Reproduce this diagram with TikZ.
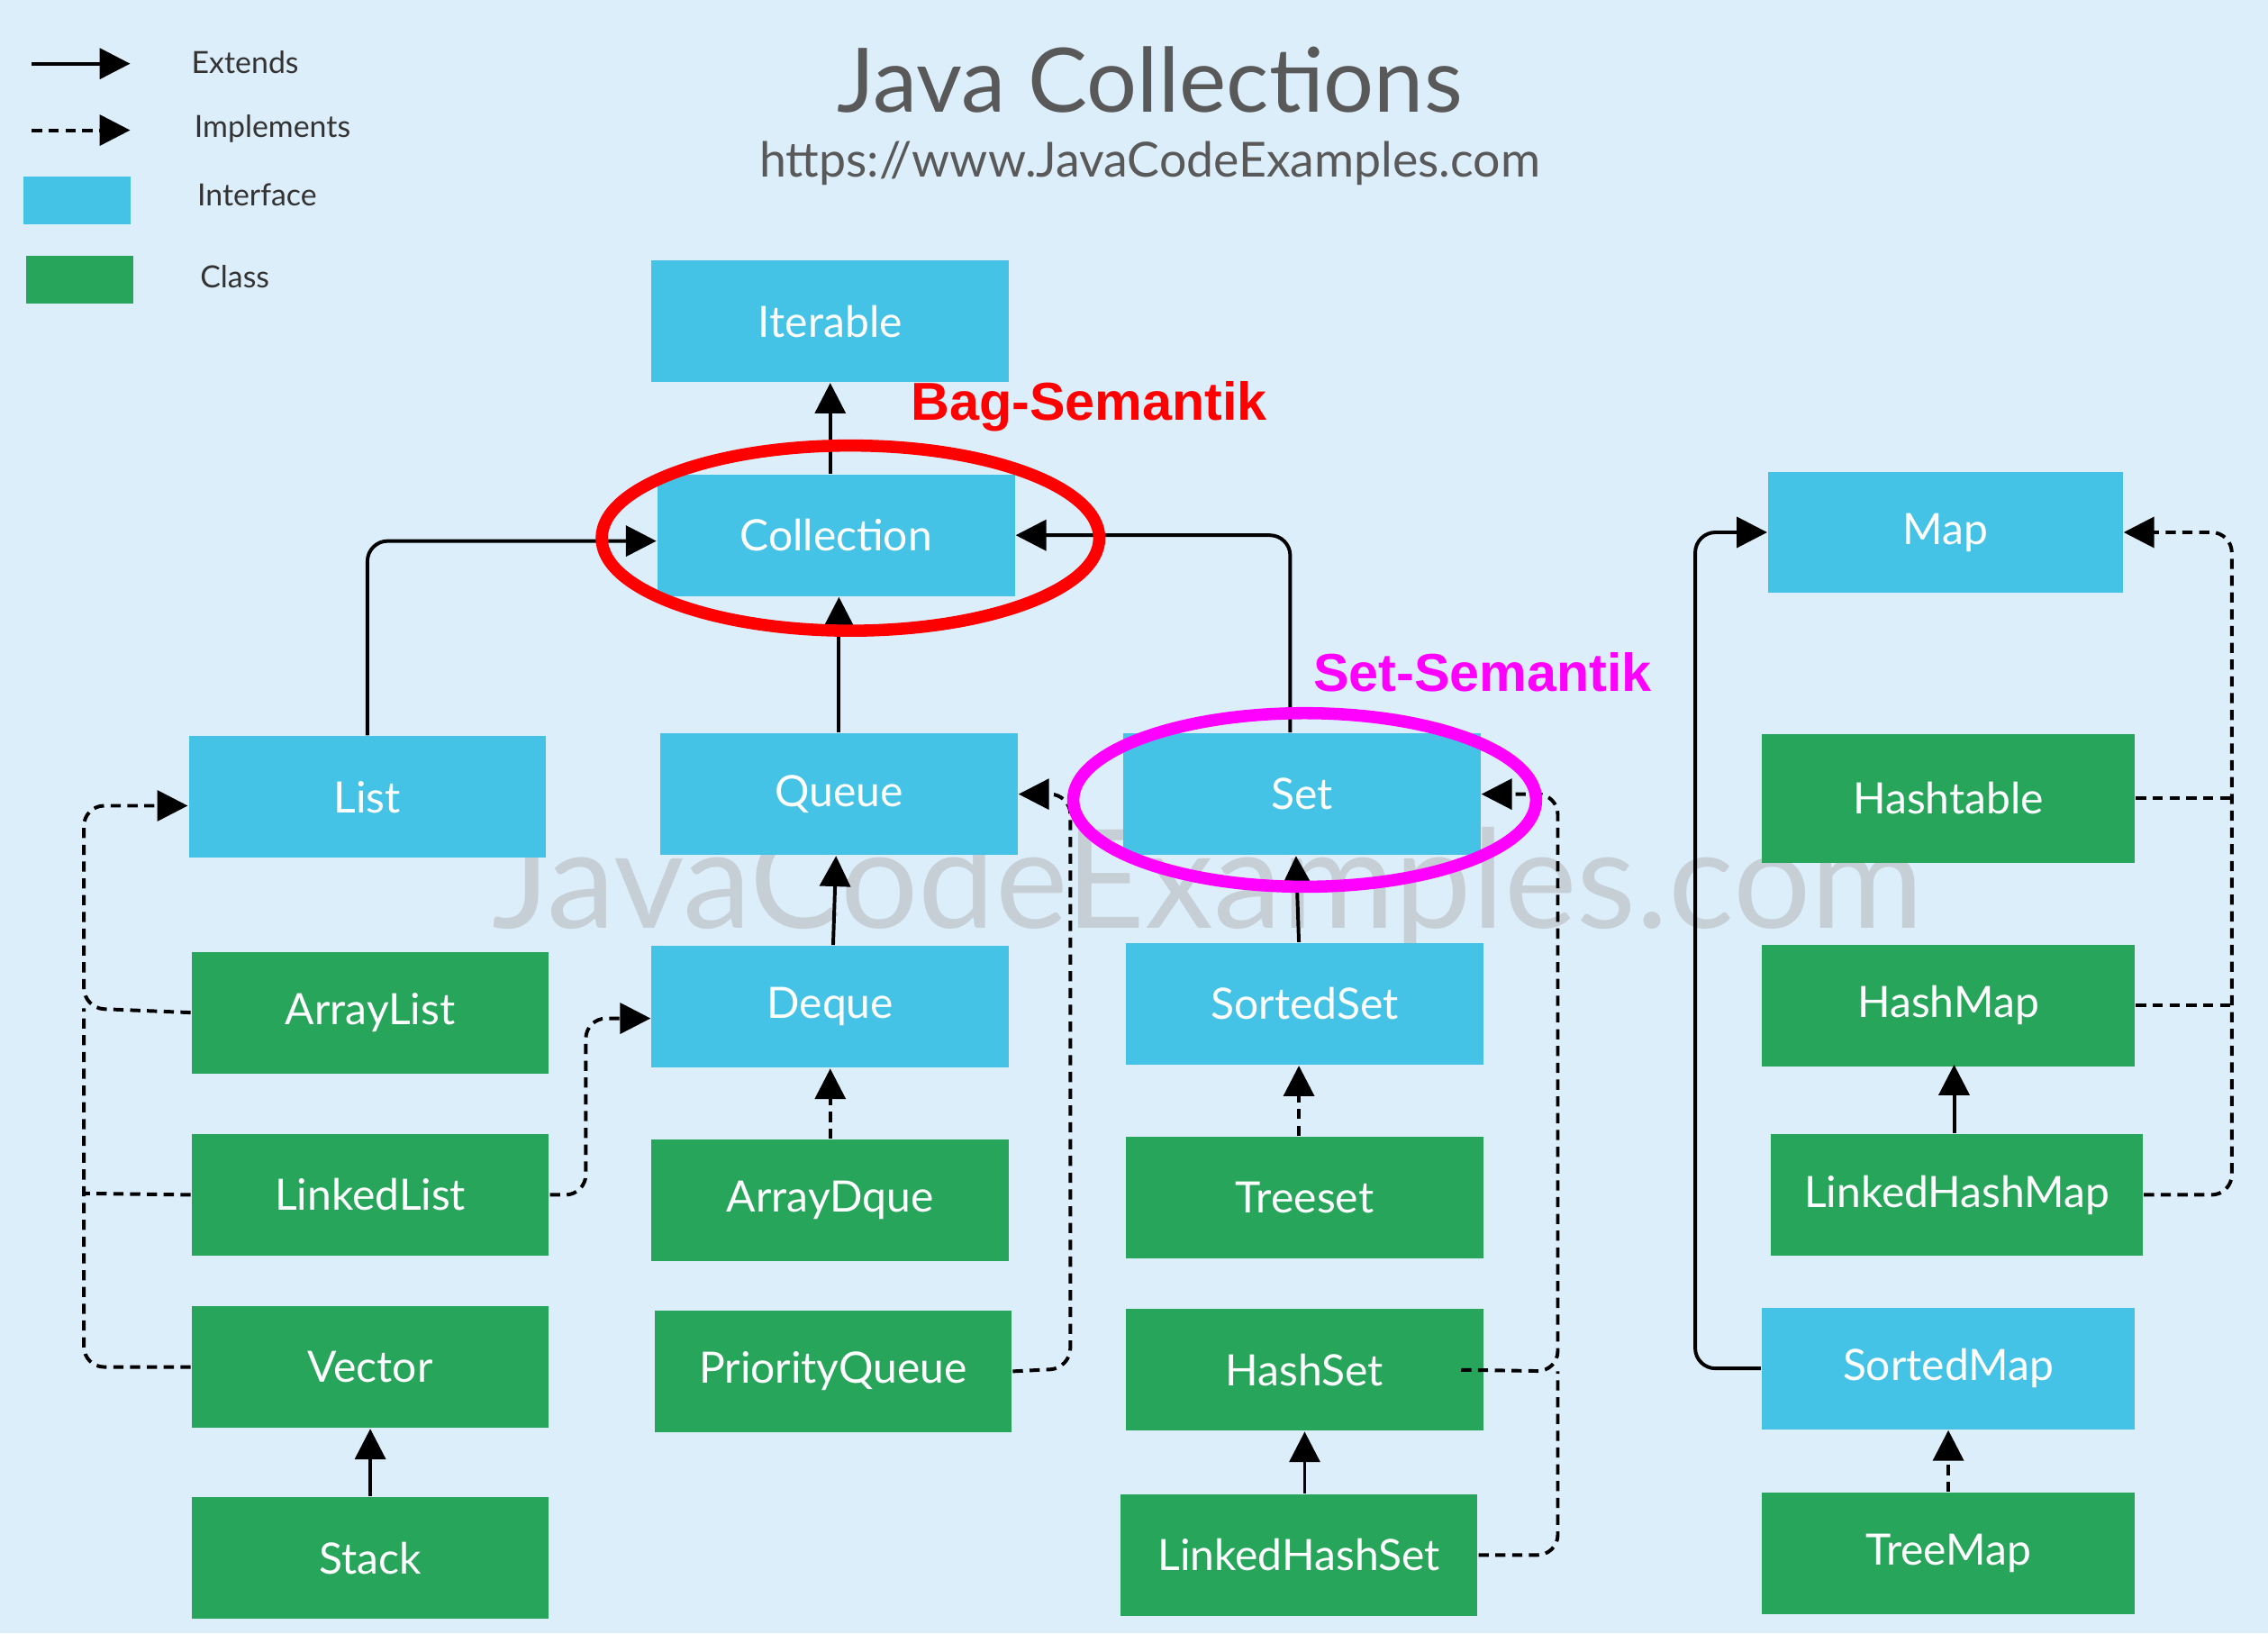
\documentclass[tikz,border=0pt]{standalone}
\usepackage{fontspec}
\setmainfont{Lato}
\newfontfamily\arialb{Liberation Sans}
\usetikzlibrary{arrows.meta}
\definecolor{bg}{HTML}{DDEEFB}
\definecolor{intf}{HTML}{45C3E6}
\definecolor{cls}{HTML}{27A55A}
\definecolor{mag}{HTML}{FF00FF}
\begin{document}
\begin{tikzpicture}[x=0.01cm,y=-0.01cm,
 box/.style={minimum width=247*0.01cm,minimum height=84*0.01cm,inner sep=0,text=white,font=\fontsize{8.5}{10}\selectfont},
 if/.style={box,fill=intf},
 cl/.style={box,fill=cls},
 ln/.style={line width=0.7pt,rounded corners=4pt},
 dl/.style={ln,dash pattern=on 2pt off 1.3pt},
 ext/.style={ln,-{Triangle[length=6pt,width=6pt]}},
 imp/.style={dl,-{Triangle[length=6pt,width=6pt]}}]
\fill[bg] (0,0) rectangle (1568,1129);
\useasboundingbox (0,0) rectangle (1568,1129);
\node[text=black!30,font=\fontsize{27}{30}\selectfont,opacity=0.5] (wm) at (835,615) {JavaCodeExamples.com};
\node[text=black!65,font=\fontsize{17.5}{20}\selectfont] (title) at (795,55) {Java Collections};
\node[text=black!65,font=\fontsize{9.5}{11}\selectfont] (url) at (795,113) {https://www.JavaCodeExamples.com};
% legend
\coordinate (l1a) at (22,44); \coordinate (l1b) at (90,44);
\coordinate (l2a) at (22,90); \coordinate (l2b) at (90,90);
\draw[ext] (l1a) -- (l1b);
\draw[imp] (l2a) -- (l2b);
\fill[intf] (16,122) rectangle (90,155);
\fill[cls] (18,177) rectangle (92,210);
\node[anchor=west,font=\fontsize{6}{7}\selectfont,text=black!80] (t1) at (120,43) {Extends};
\node[anchor=west,font=\fontsize{6}{7}\selectfont,text=black!80] (t2) at (122,89) {Implements};
\node[anchor=west,font=\fontsize{6}{7}\selectfont,text=black!80] (t3) at (124,135) {Interface};
\node[anchor=west,font=\fontsize{6}{7}\selectfont,text=black!80] (t4) at (126,191) {Class};
% nodes
\node[if] (it) at (574,222) {Iterable};
\node[if] (co) at (578,370) {Collection};
\node[if] (li) at (254,551) {List};
\node[if] (qu) at (580,549) {Queue};
\node[if] (se) at (900,549) {Set};
\node[if,minimum width=245*0.01cm] (ma) at (1345,368) {Map};
\node[cl,minimum width=258*0.01cm,minimum height=89*0.01cm] (ht) at (1347,552) {Hashtable};
\node[cl,minimum width=258*0.01cm] (hm) at (1347,695) {HashMap};
\node[cl,minimum width=257*0.01cm] (lhm) at (1353,826) {LinkedHashMap};
\node[if,minimum width=258*0.01cm] (sm) at (1347,946) {SortedMap};
\node[cl,minimum width=258*0.01cm] (tm) at (1347,1074) {TreeMap};
\node[cl] (al) at (256,700) {ArrayList};
\node[cl] (ll) at (256,826) {LinkedList};
\node[cl] (ve) at (256,945) {Vector};
\node[cl] (st) at (256,1077) {Stack};
\node[if] (de) at (574,696) {Deque};
\node[cl] (ad) at (574,830) {ArrayDque};
\node[cl] (pq) at (576,948) {PriorityQueue};
\node[if] (ss) at (902,694) {SortedSet};
\node[cl] (ts) at (902,828) {Treeset};
\node[cl] (hs) at (902,947) {HashSet};
\node[cl] (lhs) at (898,1075) {LinkedHashSet};
% connectors
\draw[ext] (co.north-|it.south) -- (it.south);
\draw[ext] (li.north) |- ([yshift=-4*0.01cm]co.west);
\draw[ext] (qu.north) -- (qu.north|-co.south);
\draw[ext] ([xshift=-8*0.01cm]se.north) |- (co.east);
\draw[imp] (al.west) -- (58,697) |- ([yshift=-6*0.01cm]li.west);
\draw[dl] (ll.west) -- (58,825);
\draw[dl] (ve.west) -| (58,697);
\draw[imp] (ll.east) -- (405,826) |- ([yshift=-8*0.01cm]de.west);
\draw[ext] ([xshift=2*0.01cm]de.north) -- ([xshift=-2*0.01cm]qu.south);
\draw[imp] (ad.north) -- (de.south);
\draw[imp] (pq.east) -- (740,946) |- (qu.east);
\draw[ext] ([xshift=-4*0.01cm]ss.north) -- ([xshift=-4*0.01cm]se.south);
\draw[imp] ([xshift=-4*0.01cm]ts.north) -- ([xshift=-4*0.01cm]ss.south);
\draw[imp] ([xshift=-16*0.01cm]hs.east) -- (1077,948) |- (se.east);
\draw[dl] (lhs.east) -| (1077,948);
\draw[ext] (lhs.north-|hs.south) -- (hs.south);
\draw[ext] (st.north) -- (ve.south);
\draw[ext] (sm.west) -- (1172,946) |- (ma.west);
\draw[imp] (lhm.east) -- (1543,826) |- (ma.east);
\draw[dl] (ht.east) -- (1543,552);
\draw[dl] (hm.east) -- (1543,695);
\draw[ext] (lhm.north-|1351,0) -- (1351,736);
\draw[imp] (tm.north) -- (sm.south);
% annotations
\draw[red,line width=2.4pt] (588,372) ellipse [x radius=172,y radius=64];
\draw[mag,line width=2.4pt] (902,553) ellipse [x radius=160,y radius=60];
\node[red,font=\arialb\bfseries\fontsize{10.5}{12}\selectfont] (bag) at (753,281) {Bag-Semantik};
\node[mag,font=\arialb\bfseries\fontsize{10.5}{12}\selectfont] (set) at (1025,465) {Set-Semantik};
\end{tikzpicture}
\end{document}
